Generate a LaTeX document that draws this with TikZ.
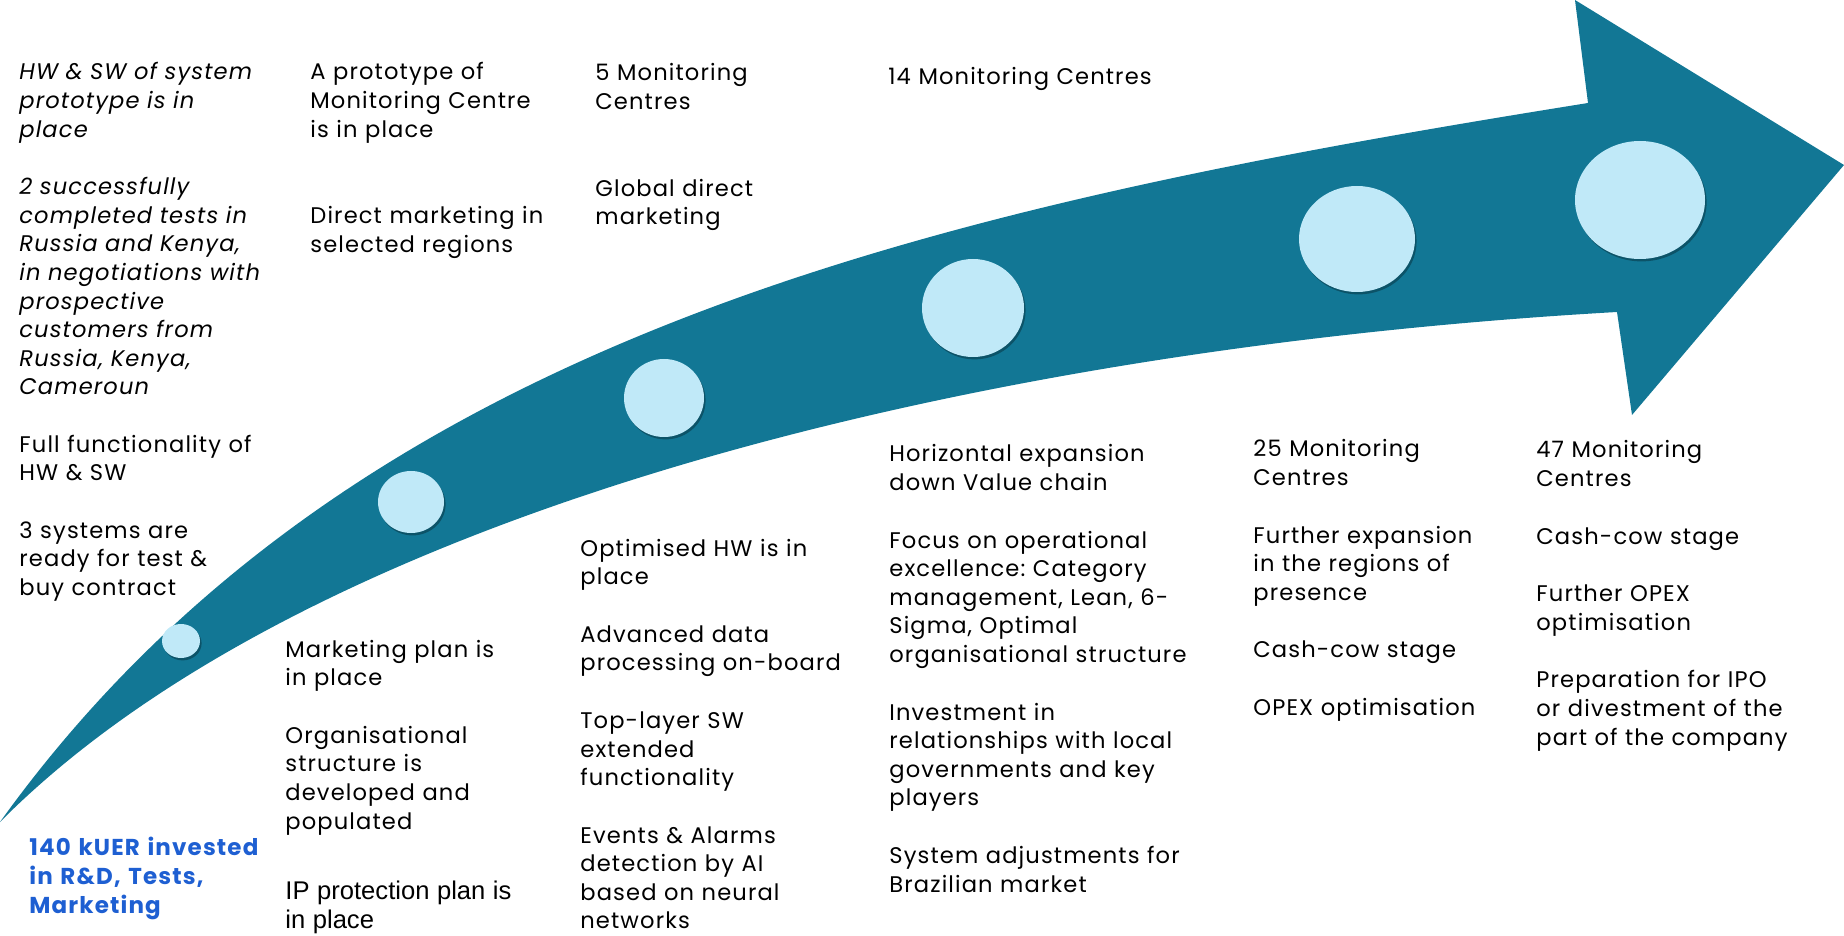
\documentclass[tikz,border=0pt]{standalone}
\usepackage{fontspec}
\setmainfont{Poppins}[LetterSpace=5.0]
\newfontfamily\arialfont{Liberation Sans}
\usetikzlibrary{shapes.geometric,shadows}
\definecolor{arrowteal}{RGB}{18,119,149}
\definecolor{dotblue}{RGB}{192,233,248}
\definecolor{investblue}{RGB}{30,95,210}
\frenchspacing
\tikzset{
	stage/.style={anchor=base west, inner sep=0pt, text width=190pt, align=left,
		font=\fontsize{11.3}{14.3}\selectfont},
	milestone/.style={ellipse, fill=dotblue, inner sep=0pt,
		drop shadow={shadow xshift=0.8pt, shadow yshift=-1.2pt, opacity=0.3, fill=black}}
}
\begin{document}
\begin{tikzpicture}[x=0.5pt,y=-0.5pt]
	\useasboundingbox (0,0) rectangle (1844,936);
	% curved arrow
	\fill[arrowteal] (0,822) .. controls (350,335) and (938,207) .. (1588,103)
		-- (1575,0) -- (1844,165) -- (1632,415) -- (1617,312)
		.. controls (950,350) and (300,520) .. (0,822) -- cycle;
	% milestones
	\node[milestone, minimum width=19pt, minimum height=17pt] (m1) at (181,641) {};
	\node[milestone, minimum width=33pt, minimum height=31pt] (m2) at (411,502) {};
	\node[milestone, minimum width=40pt, minimum height=39pt] (m3) at (664,398) {};
	\node[milestone, minimum width=51pt, minimum height=49pt] (m4) at (973,308) {};
	\node[milestone, minimum width=58pt, minimum height=53pt] (m5) at (1357,239) {};
	\node[milestone, minimum width=65pt, minimum height=59pt] (m6) at (1640,200) {};
	% stage 1
	\node[stage, font=\fontsize{11.3}{14.3}\selectfont\itshape] (s1top) at (19,80) {HW \& SW of system\\prototype is in\\place\\[14.5pt]
		2 successfully\\completed tests in\\Russia and Kenya,\\in negotiations with\\prospective\\customers from\\Russia, Kenya,\\Cameroun};
	\node[stage] (s1mid) at (19,452) {Full functionality of\\HW \& SW\\[14.5pt]3 systems are\\ready for test \&\\buy contract};
	\node[stage, font=\fontsize{11.5}{14.6}\selectfont\bfseries, text=investblue] (s1inv) at (29,855) {140 kUER invested\\in R\&D, Tests,\\Marketing};
	% stage 2
	\node[stage] (s2top) at (310,80) {A prototype of\\Monitoring Centre\\is in place\\[29pt]Direct marketing in\\selected regions};
	\node[stage] (s2bot) at (285,657) {Marketing plan is\\in place\\[14.5pt]Organisational\\structure is\\developed and\\populated\\[21pt]
		{\arialfont\fontsize{12.8}{14.3}\selectfont IP protection plan is\\in place}};
	% stage 3
	\node[stage] (s3top) at (595,81) {5 Monitoring\\Centres\\[29pt]Global direct\\marketing};
	\node[stage] (s3bot) at (580,556) {Optimised HW is in\\place\\[14.5pt]Advanced data\\processing on-board\\[14.5pt]
		Top-layer SW\\extended\\functionality\\[14.5pt]Events \& Alarms\\detection by AI\\based on neural\\networks};
	% stage 4
	\node[stage] (s4top) at (888,85) {14 Monitoring Centres};
	\node[stage] (s4bot) at (889,462) {Horizontal expansion\\down Value chain\\[14.5pt]Focus on operational\\excellence: Category\\management, Lean, 6-\\Sigma, Optimal\\organisational structure\\[14.5pt]
		Investment in\\relationships with local\\governments and key\\players\\[14.5pt]System adjustments for\\Brazilian market};
	% stage 5
	\node[stage] (s5) at (1253,457) {25 Monitoring\\Centres\\[14.5pt]Further expansion\\in the regions of\\presence\\[14.5pt]Cash-cow stage\\[14.5pt]OPEX optimisation};
	% stage 6
	\node[stage] (s6) at (1536,458) {47 Monitoring\\Centres\\[14.5pt]Cash-cow stage\\[14.5pt]Further OPEX\\optimisation\\[14.5pt]Preparation for IPO\\or divestment of the\\part of the company};
\end{tikzpicture}
\end{document}
